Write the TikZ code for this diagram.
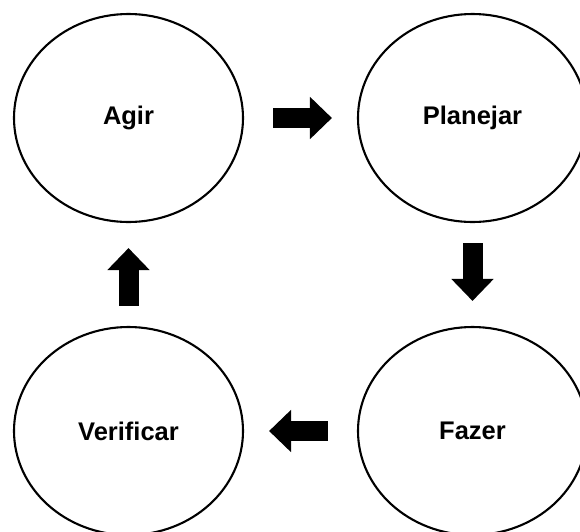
\documentclass[tikz,border=0pt]{standalone}
\usepackage{fontspec}
\setmainfont{Liberation Sans}
\usetikzlibrary{shapes.geometric,arrows.meta}

\begin{document}
\begin{tikzpicture}[x=1pt,y=-1pt,font=\fontsize{25.5}{30}\selectfont\bfseries]
    \tikzstyle{fase} = [draw, ellipse, line width=2.1pt, minimum width=229pt, minimum height=208pt, inner sep=0pt]
    \tikzstyle{seta} = [line width=20pt, -{Triangle[length=22pt,width=41pt]}, shorten >=25pt]

    \clip (0,0) rectangle (580,531);

    % 四个阶段
    \node[fase] (agir) at (128.5,118) {Agir};
    \node[fase] (planejar) at (472.5,118) {Planejar};
    \node[fase] (fazer) at (472.5,431) {Fazer};
    \node[fase] (verificar) at (128.5,431) {Verificar};

    % 箭头
    \draw[seta, shorten <=29pt] (agir) -- (planejar);
    \draw[seta, shorten <=20pt] (planejar) -- (fazer);
    \draw[seta, shorten <=29pt] (fazer) -- (verificar);
    \draw[seta, shorten <=20pt] (verificar) -- (agir);
\end{tikzpicture}
\end{document}
